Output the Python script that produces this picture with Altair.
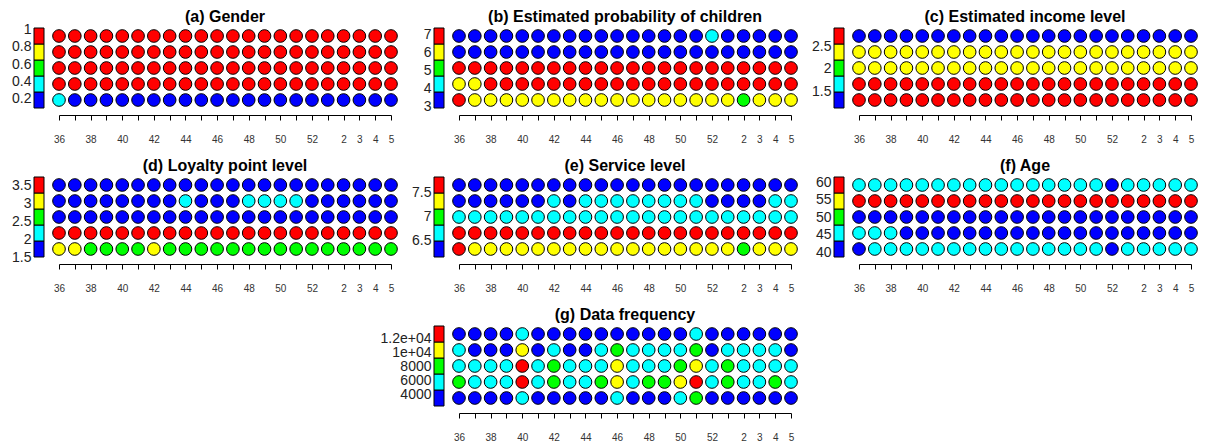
import altair as alt
import pandas as pd
import numpy as np

FONT = "Liberation Sans"
COLORS = ["#0000FF", "#00FFFF", "#00FF00", "#FFFF00", "#FF0000"]
LETTER = {"B": 1, "C": 2, "G": 3, "Y": 4, "R": 5}

# week labels along the x axis (22 weeks: 36..52, 1..5)
WEEK_LABELS = ["36", "", "38", "", "40", "", "42", "", "44", "", "46", "",
               "48", "", "50", "", "52", "", "2", "3", "4", "5"]

# cell colour levels per panel, rows listed top to bottom
# B=blue, C=cyan, G=green, Y=yellow, R=red
rows_a = ["RRRRRRRRRRRRRRRRRRRRRR",
          "RRRRRRRRRRRRRRRRRRRRRR",
          "RRRRRRRRRRRRRRRRRRRRRR",
          "RRRRRRRRRRRRRRRRRRRRRR",
          "CBBBBBBBBBBBBBBBBBBBBB"]
rows_b = ["BBBBBBBBBBBBBBBBCBBBBB",
          "BBBBBBBBBBBBBBBBBBBBBB",
          "RRRRRRRRRRRRRRRRRRRRRR",
          "YYRRRRRRRRRRRRRRRRRRRR",
          "RYYYYYYYYYYYYYYYYYGYYY"]
rows_c = ["BBBBBBBBBBBBBBBBBBBBBB",
          "YYYYYYYYYYYYYYYYYYYYYY",
          "YYYYYYYYYYYYYYYYYYYYYY",
          "RRRRRRRRRRRRRRRRRRRRRR",
          "RRRRRRRRRRRRRRRRRRRRRR"]
rows_d = ["BBBBBBBBBBBBBBBBBBBBBB",
          "BBBBBBBBCBBBCCCCBBBBBB",
          "BBBBBBBBBBBBBBBBBBBBBB",
          "RRRRRRRRRRRRRRRRRRRRRR",
          "YYGGGGYGGGGGGGGGGGGGGG"]
rows_e = ["BBBBBBBBBBBBBBBBBBBBBB",
          "BBBBBBCBCCCCCCCCBBBBCC",
          "CCCCCCCCCCCCCCCCCCCCCC",
          "RRRRRRRRRRRRRRRRRRRRRR",
          "RYYYYYYYYYYYYYYYYYGYYY"]
rows_f = ["CCCCCCCCCCCCCCCCBCCCCC",
          "RRRRRRRRRRRRRRRRRRRRRR",
          "BBBBBBBBBBBBBBBBBBBBBB",
          "CCCBBBBBBBBBBBBBBBBBBB",
          "BCCCCCCCCCCCCCCCBCCCCC"]
rows_g = ["BBBBCBBBBBBBBBBCBBBBBB",
          "CBBBYBCBBCGCCCCGBCCCCB",
          "CCCCRCGCCCYCCCGYCGCCCC",
          "GCCCRCGCCGYCGGYRCGCCGC",
          "BBBBCBBBBBCBBBCGBBBBBB"]

titles = ["(a) Gender", "(b) Estimated probability of children",
          "(c) Estimated income level", "(d) Loyalty point level",
          "(e) Service level", "(f) Age", "(g) Data frequency"]

# colour-bar ranges, tick values and tick labels
range_a, ticks_a, labs_a = [0.09, 1.02], [0.2, 0.4, 0.6, 0.8, 1], ["0.2", "0.4", "0.6", "0.8", "1"]
range_b, ticks_b, labs_b = [2.9, 7.35], [3, 4, 5, 6, 7], ["3", "4", "5", "6", "7"]
range_c, ticks_c, labs_c = [1.12, 2.92], [1.5, 2, 2.5], ["1.5", "2", "2.5"]
range_d, ticks_d, labs_d = [1.5, 3.73], [1.5, 2, 2.5, 3, 3.5], ["1.5", "2", "2.5", "3", "3.5"]
range_e, ticks_e, labs_e = [6.15, 7.82], [6.5, 7, 7.5], ["6.5", "7", "7.5"]
range_f, ticks_f, labs_f = [38.6, 61.6], [40, 45, 50, 55, 60], ["40", "45", "50", "55", "60"]
range_g, ticks_g, labs_g = [2300, 13800], [4000, 6000, 8000, 10000, 12000], ["4000", "6000", "8000", "1e+04", "1.2e+04"]

GRID_W = 332
CELL_H = 80
fill_scale = alt.Scale(domain=[1, 2, 3, 4, 5], range=COLORS)


def js_list(vals):
    return "[" + ",".join(repr(v) if isinstance(v, str) else str(v) for v in vals) + "]"


def grid_chart(title, rows):
    recs = []
    n = len(rows)
    for i, s in enumerate(rows):
        for j, ch in enumerate(s):
            recs.append({"col": j, "row": n - i, "level": LETTER[ch]})
    df = pd.DataFrame(recs)
    ncol = len(rows[0])
    week_expr = js_list(WEEK_LABELS) + "[datum.value]"
    return alt.Chart(df, title=alt.TitleParams(title)).mark_circle(
        size=160, opacity=1, stroke="black", strokeWidth=1
    ).encode(
        x=alt.X("col:Q",
                scale=alt.Scale(domain=[0, ncol - 1], nice=False, zero=False),
                axis=alt.Axis(values=list(range(ncol)), labelExpr=week_expr,
                              title=None, grid=False, offset=7, tickSize=5,
                              domainColor="black", tickColor="black",
                              labelFontSize=10, labelColor="#333",
                              labelPadding=14, labelOverlap=False, labelFlush=False)),
        y=alt.Y("row:Q", scale=alt.Scale(domain=[0.5, n + 0.5], nice=False, zero=False),
                axis=None),
        fill=alt.Fill("level:O", scale=fill_scale, legend=None),
    ).properties(width=GRID_W, height=CELL_H)


def legend_chart(rng, ticks, labels):
    edges = np.linspace(rng[0], rng[1], 6)
    df = pd.DataFrame({"level": [1, 2, 3, 4, 5], "lo": edges[:-1], "hi": edges[1:]})
    expr = js_list(labels) + "[indexof(" + js_list(ticks) + ", datum.value)]"
    return alt.Chart(df).mark_rect(stroke="black", strokeWidth=1).encode(
        x=alt.value(0), x2=alt.value(10),
        y=alt.Y("lo:Q", scale=alt.Scale(domain=rng, nice=False, zero=False),
                axis=alt.Axis(values=ticks, labelExpr=expr, domain=False, ticks=False,
                              grid=False, title=None, labelFontSize=14,
                              labelPadding=3, labelColor="#222",
                              labelOverlap=False, labelFlush=False)),
        y2="hi:Q",
        fill=alt.Fill("level:O", scale=fill_scale, legend=None),
    ).properties(width=10, height=CELL_H)


def spacer(w):
    return alt.Chart(pd.DataFrame({"v": [0]})).mark_point(opacity=0).properties(
        width=w, height=CELL_H)


La, Ga = legend_chart(range_a, ticks_a, labs_a), grid_chart(titles[0], rows_a)
Lb, Gb = legend_chart(range_b, ticks_b, labs_b), grid_chart(titles[1], rows_b)
Lc, Gc = legend_chart(range_c, ticks_c, labs_c), grid_chart(titles[2], rows_c)
Ld, Gd = legend_chart(range_d, ticks_d, labs_d), grid_chart(titles[3], rows_d)
Le, Ge = legend_chart(range_e, ticks_e, labs_e), grid_chart(titles[4], rows_e)
Lf, Gf = legend_chart(range_f, ticks_f, labs_f), grid_chart(titles[5], rows_f)
Lg, Gg = legend_chart(range_g, ticks_g, labs_g), grid_chart(titles[6], rows_g)

cells = [La, Ga, spacer(13), Lb, Gb, spacer(13), Lc, Gc,
         Ld, Gd, spacer(13), Le, Ge, spacer(13), Lf, Gf,
         spacer(1), spacer(1), spacer(1), Lg, Gg]

chart = alt.concat(
    *cells, columns=8, spacing={"row": 69, "column": 15}, bounds="flush"
).properties(
    padding={"left": 3, "top": 0, "right": 0, "bottom": 0}
).configure_view(stroke=None).configure_axis(
    labelFont=FONT
).configure_title(
    font=FONT, fontSize=16, fontWeight="bold", color="black", offset=3, anchor="middle"
)

chart.save("out.html", embed_options={"renderer": "svg", "actions": False})
